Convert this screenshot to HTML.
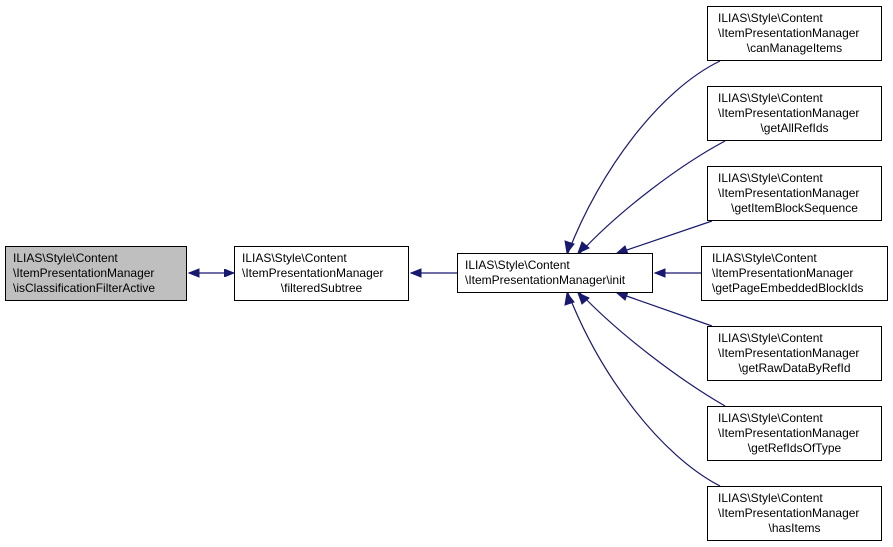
<!DOCTYPE html>
<html><head><meta charset="utf-8"><style>
body{margin:0;background:#fff;}
svg{display:block;font-family:"Liberation Sans",sans-serif;}
text{font-size:12px;fill:#000;}
</style></head><body>
<svg width="893" height="547" viewBox="0 0 893 547" xmlns="http://www.w3.org/2000/svg">
<defs><marker id="a" markerWidth="10" markerHeight="8" refX="0" refY="4" orient="auto" markerUnits="userSpaceOnUse"><path d="M10,0 L0,4 L10,8 z" fill="#191970" stroke="#191970"/></marker></defs>
<g fill="none" stroke="#191970" stroke-width="1.2">
<path d="M234,273 H189" marker-start="url(#a)" />
<path d="M457,273 H411" />
<path d="M701,273 H655" />
<path d="M720,61 C660,90 600,170 568,253" />
<path d="M725,141 C680,165 620,210 580,253" />
<path d="M712,221 L618,253" />
<path d="M712,326 L618,293" />
<path d="M725,406 C680,380 620,335 580,293" />
<path d="M720,486 C660,455 600,375 568,293" />
</g>
<g fill="#191970" stroke="#191970">
<path d="M189,273 L199,269 L199,277 z"/>
<path d="M411,273 L421,269 L421,277 z"/>
<path d="M655,273 L665,269 L665,277 z"/>
<path d="M567,253 L565,241 L574,244 z"/>
<path d="M578,253 L582,242 L589,248 z"/>
<path d="M617,253 L625,246 L628,254 z"/>
<path d="M567,293 L565,305 L574,302 z"/>
<path d="M578,293 L582,304 L589,298 z"/>
<path d="M617,293 L625,300 L628,292 z"/>
</g>
<g stroke="#000" stroke-width="1">
<rect x="5.5" y="246.5" width="181" height="54" fill="#bfbfbf"/>
<rect x="234.5" y="246.5" width="174" height="54" fill="#fff"/>
<rect x="457.5" y="253.5" width="195" height="39" fill="#fff"/>
<rect x="707.5" y="6.5" width="174" height="54" fill="#fff"/>
<rect x="707.5" y="86.5" width="174" height="54" fill="#fff"/>
<rect x="707.5" y="166.5" width="174" height="54" fill="#fff"/>
<rect x="701.5" y="246.5" width="186" height="54" fill="#fff"/>
<rect x="707.5" y="326.5" width="174" height="54" fill="#fff"/>
<rect x="707.5" y="406.5" width="174" height="54" fill="#fff"/>
<rect x="707.5" y="486.5" width="174" height="54" fill="#fff"/>
</g>
<text x="13" y="262">ILIAS\Style\Content</text>
<text x="13" y="277">\ItemPresentationManager</text>
<text x="13" y="292">\isClassificationFilterActive</text>
<text x="242" y="262">ILIAS\Style\Content</text>
<text x="242" y="277">\ItemPresentationManager</text>
<text x="321.5" y="292" text-anchor="middle">\filteredSubtree</text>
<text x="465" y="269">ILIAS\Style\Content</text>
<text x="465" y="284">\ItemPresentationManager\init</text>
<g>
<text x="718" y="22">ILIAS\Style\Content</text><text x="718" y="37">\ItemPresentationManager</text><text x="794.5" y="52" text-anchor="middle">\canManageItems</text>
<text x="718" y="102">ILIAS\Style\Content</text><text x="718" y="117">\ItemPresentationManager</text><text x="794.5" y="132" text-anchor="middle">\getAllRefIds</text>
<text x="718" y="182">ILIAS\Style\Content</text><text x="718" y="197">\ItemPresentationManager</text><text x="794.5" y="212" text-anchor="middle">\getItemBlockSequence</text>
<text x="712" y="262">ILIAS\Style\Content</text><text x="712" y="277">\ItemPresentationManager</text><text x="712" y="292">\getPageEmbeddedBlockIds</text>
<text x="718" y="342">ILIAS\Style\Content</text><text x="718" y="357">\ItemPresentationManager</text><text x="794.5" y="372" text-anchor="middle">\getRawDataByRefId</text>
<text x="718" y="422">ILIAS\Style\Content</text><text x="718" y="437">\ItemPresentationManager</text><text x="794.5" y="452" text-anchor="middle">\getRefIdsOfType</text>
<text x="718" y="502">ILIAS\Style\Content</text><text x="718" y="517">\ItemPresentationManager</text><text x="794.5" y="532" text-anchor="middle">\hasItems</text>
</g>
</svg>
</body></html>
